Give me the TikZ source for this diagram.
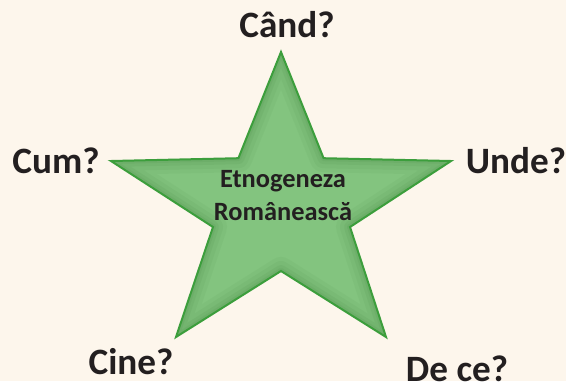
\documentclass[tikz,border=0pt]{standalone}
\usepackage{fontspec}
\setmainfont{Carlito}
\usetikzlibrary{positioning}
\definecolor{paper}{HTML}{FDF6EC}
\definecolor{starfill}{HTML}{83C47F}
\definecolor{stardark}{HTML}{4E8F4A}
\definecolor{staredge}{HTML}{3C9E3C}
\definecolor{ink}{HTML}{231F20}
\begin{document}
\begin{tikzpicture}[
    x=0.5pt, y=-0.5pt,
    question/.style={text=ink, font=\fontsize{18.6}{22}\selectfont\bfseries, inner sep=0pt},
    title/.style={text=ink, font=\fontsize{13.2}{16.5}\selectfont\bfseries, align=center, inner sep=0pt}
]
    % Background
    \fill[paper] (0,0) rectangle (566,381);
    \useasboundingbox (0,0) rectangle (566,381);
    % Star points
    \coordinate (top) at (281,52);
    \coordinate (in1) at (323.6,158.2);
    \coordinate (right) at (451,161);
    \coordinate (in2) at (350,227);
    \coordinate (botright) at (386,337);
    \coordinate (in3) at (281,271);
    \coordinate (botleft) at (176,337);
    \coordinate (in4) at (213,227);
    \coordinate (left) at (111,161);
    \coordinate (in5) at (238.4,158.2);
    % Star body with inner shade
    \fill[starfill] (top) -- (in1) -- (right) -- (in2) -- (botright) -- (in3)
        -- (botleft) -- (in4) -- (left) -- (in5) -- cycle;
    \begin{scope}
        \clip (top) -- (in1) -- (right) -- (in2) -- (botright) -- (in3)
            -- (botleft) -- (in4) -- (left) -- (in5) -- cycle;
        \foreach \w/\o in {14/0.08, 10/0.1, 6/0.12, 3/0.15}
            \draw[stardark, line width=\w pt, opacity=\o, line join=round]
                (top) -- (in1) -- (right) -- (in2) -- (botright) -- (in3)
                -- (botleft) -- (in4) -- (left) -- (in5) -- cycle;
    \end{scope}
    \draw[staredge, line width=1pt, line join=miter] (top) -- (in1) -- (right) -- (in2)
        -- (botright) -- (in3) -- (botleft) -- (in4) -- (left) -- (in5) -- cycle;
    % Centre text
    \node[title] (etno) at (283,196) {Etnogeneza\\Românească};
    % Questions
    \node[question] (cand) at (287,25) {Când?};
    \node[question] (cum) at (56,161) {Cum?};
    \node[question] (unde) at (516,161) {Unde?};
    \node[question] (cine) at (131,362) {Cine?};
    \node[question] (dece) at (457,369) {De ce?};
\end{tikzpicture}
\end{document}
